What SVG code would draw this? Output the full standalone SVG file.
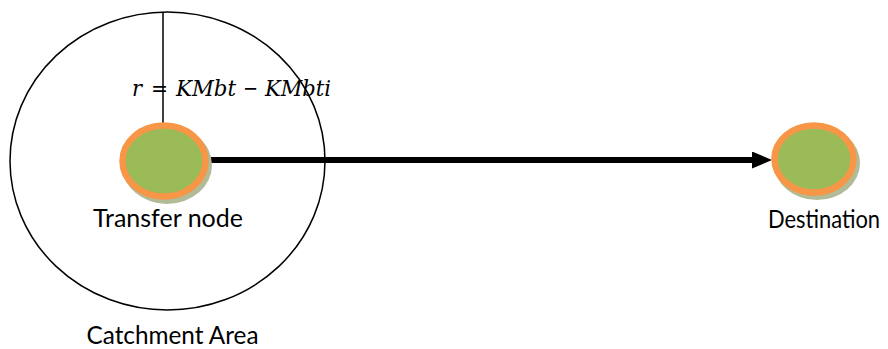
<svg xmlns="http://www.w3.org/2000/svg" width="888" height="349" viewBox="0 0 888 349">
<defs>
<style>
.lbl{font-family:Lato,"Open Sans","Liberation Sans",sans-serif;font-size:25px;fill:#000}
.math{font-family:"DejaVu Serif","Liberation Serif",serif;font-style:italic;font-size:23px;fill:#000}
.op{font-style:normal}
.ring{fill:#9BBB59;stroke:#F79646;stroke-width:6.5}
.shadow{fill:#b2bb98}
.thin{fill:none;stroke:#000;stroke-width:1.5}
</style>
<marker id="ah" markerUnits="userSpaceOnUse" markerWidth="20" markerHeight="17" refX="0" refY="8.5" orient="auto">
<polygon points="0,0 20,8.5 0,17" fill="#000"/>
</marker>
</defs>
<rect width="888" height="349" fill="#fff"/>
<g id="catchment">
<ellipse class="thin" cx="167.5" cy="161" rx="157.5" ry="149"/>
<text class="lbl" x="172.5" y="344" text-anchor="middle" textLength="172" lengthAdjust="spacingAndGlyphs">Catchment Area</text>
</g>
<g id="radius">
<line class="thin" x1="163" y1="12" x2="163" y2="123"/>
<text class="math" y="96"><tspan x="132" textLength="10" lengthAdjust="spacingAndGlyphs">r</tspan><tspan class="op" x="151" textLength="17" lengthAdjust="spacingAndGlyphs">=</tspan><tspan x="176" textLength="60" lengthAdjust="spacingAndGlyphs">KMbt</tspan><tspan class="op" x="243" textLength="15" lengthAdjust="spacingAndGlyphs">−</tspan><tspan x="265" textLength="66" lengthAdjust="spacingAndGlyphs">KMbti</tspan></text>
</g>
<g id="connectors">
<line x1="208" y1="160" x2="752" y2="160" stroke="#000" stroke-width="6" marker-end="url(#ah)"/>
</g>
<g id="transfer-node">
<ellipse class="shadow" cx="167" cy="165" rx="45" ry="39"/>
<ellipse class="ring" cx="164" cy="161" rx="41.5" ry="35.5"/>
<text class="lbl" x="168" y="227" text-anchor="middle" textLength="150" lengthAdjust="spacingAndGlyphs">Transfer node</text>
</g>
<g id="destination">
<ellipse class="shadow" cx="817" cy="163" rx="43" ry="37"/>
<ellipse class="ring" cx="814" cy="159" rx="39.5" ry="33.5"/>
<text class="lbl" x="824" y="228" text-anchor="middle" textLength="112" lengthAdjust="spacingAndGlyphs">Destination</text>
</g>
</svg>
